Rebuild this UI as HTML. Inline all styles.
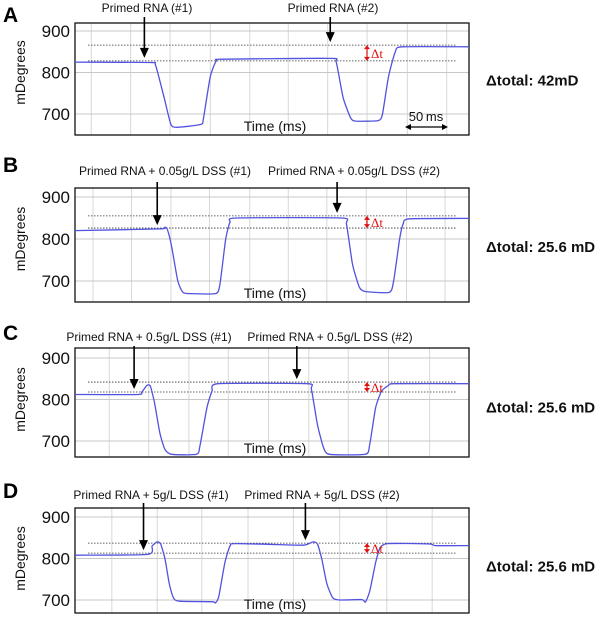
<!DOCTYPE html>
<html><head><meta charset="utf-8"><style>
html,body{margin:0;padding:0;background:#fff}
svg{display:block;font-family:"Liberation Sans",Arial,sans-serif}
</style></head><body>
<svg id="fig" width="600" height="622" viewBox="0 0 600 622">
</svg>
<script>
// ---- data (time in ms, signal in mDegrees) ----
const tickValues = [900, 800, 700];
const tickLabels = ["900", "800", "700"];
const panelLetters = ["A", "B", "C", "D"];
const totals = ["\u0394total: 42mD", "\u0394total: 25.6 mD", "\u0394total: 25.6 mD", "\u0394total: 25.6 mD"];
const labels1 = ["Primed RNA (#1)", "Primed RNA + 0.05g/L DSS (#1)", "Primed RNA + 0.5g/L DSS (#1)", "Primed RNA + 5g/L DSS (#1)"];
const labels2 = ["Primed RNA (#2)", "Primed RNA + 0.05g/L DSS (#2)", "Primed RNA + 0.5g/L DSS (#2)", "Primed RNA + 5g/L DSS (#2)"];

const aT = [0,88,94,104,112,119,147,150,158,165,172,298,305,313,322,328,354,359,366,374,382,460];
const aV = [825,824,818,740,675,668,675,690,790,828,832,834,825,740,690,683,684,700,790,850,862,862];
const bT = [0,99,105,108,113,120,126,134,164,169,176,181,188,311,317,324,332,339,367,372,379,383,390,460];
const bV = [820,824,828,822,780,700,673,670,670,690,800,840,850,850,835,740,685,675,673,700,800,835,848,849];
const cT = [0,73,78,84,88,93,99,105,113,142,146,154,160,167,271,276,283,290,297,339,344,351,358,366,373,460];
const cV = [812,812,818,834,832,790,720,680,668,668,690,780,820,838,838,825,740,685,668,668,690,780,820,834,838,838];
const dT = [0,85,90,96,100,105,110,115,122,160,164,168,175,181,188,262,271,278,283,288,294,301,309,335,339,344,351,356,365,414,421,460];
const dV = [808,810,830,840,835,800,740,705,697,696,693,710,790,830,836,832,834,840,835,800,740,705,700,701,695,720,790,825,836,835,831,831];

const dottedHi = [866, 855, 842, 837];
const dottedLo = [828, 826, 818, 813];
const inject1 = [81, 96, 69, 80];
const inject2 = [298, 306, 259, 269];
const gridA = [19,65,111,158,204,249,295,341,388,434];
const gridB = [21,66,112,157,204,249,294,340,387,432];
const gridC = [40,86,133,179,226,273,319,366,414];
const gridD = [43,96,148,202,255,309,364,417];

const panels = [
 {top:23,bottom:135,y900:31,y700:114,T:aT,V:aV,grid:gridA,lblY:12,lx:[147,333],arrTop:17,letterY:22},
 {top:188,bottom:302,y900:197,y700:281,T:bT,V:bV,grid:gridB,lblY:175,lx:[165,354],arrTop:182,letterY:172},
 {top:348,bottom:457,y900:358,y700:441,T:cT,V:cV,grid:gridC,lblY:341,lx:[149,330],arrTop:346,letterY:340},
 {top:508,bottom:613,y900:517,y700:600,T:dT,V:dV,grid:gridD,lblY:499,lx:[151,322],arrTop:503,letterY:498}
];
const L = 75, R = 469, TMAX = 460;
const svg = document.getElementById('fig');
const NS = 'http://www.w3.org/2000/svg';
function mk(tag, attrs, parent){const e=document.createElementNS(NS,tag);for(const k in attrs)e.setAttribute(k,attrs[k]);(parent||svg).appendChild(e);return e;}
function xs(t){return L + t/TMAX*(R-L);}
function smooth(P){
  let d='M'+P[0][0].toFixed(1)+','+P[0][1].toFixed(1);
  for(let i=0;i<P.length-1;i++){
    const p0=P[i-1]||P[i],p1=P[i],p2=P[i+1],p3=P[i+2]||P[i+1];
    const c1=[p1[0]+(p2[0]-p0[0])/10,p1[1]+(p2[1]-p0[1])/10];
    const c2=[p2[0]-(p3[0]-p1[0])/10,p2[1]-(p3[1]-p1[1])/10];
    d+=` C${c1[0].toFixed(1)},${c1[1].toFixed(1)} ${c2[0].toFixed(1)},${c2[1].toFixed(1)} ${p2[0].toFixed(1)},${p2[1].toFixed(1)}`;
  }
  return d;
}

panels.forEach((p,i)=>{
  const k=(p.y700-p.y900)/200, y800=(p.y700+p.y900)/2;
  const ys=v=>y800-(v-800)*k;
  const g=mk('g',{});
  
  
  p.grid.forEach(t=>{const l=mk('line',{x1:xs(t),x2:xs(t),y1:p.top,y2:p.bottom,stroke:'#d8d8d8','stroke-width':1},g);
    
    });
  tickValues.forEach((v,j)=>{const l=mk('line',{x1:L,x2:R,y1:ys(v),y2:ys(v),stroke:'#c8c8c8','stroke-width':1},g);
    
    
    const t=mk('text',{x:L-5,y:ys(v)+6,'text-anchor':'end','font-size':17,fill:'#111'},g);t.textContent=tickLabels[j];
    
    });
  const b=mk('rect',{x:L,y:p.top,width:R-L,height:p.bottom-p.top,fill:'none',stroke:'#111','stroke-width':1.3},g);
  
  
  [dottedHi[i],dottedLo[i]].forEach(v=>{const l=mk('line',{x1:L+13,x2:R-12,y1:ys(v),y2:ys(v),stroke:'#333','stroke-width':0.8,'stroke-dasharray':'1.5,1.5'},g);
    
    });
  const P=p.T.map((t,j)=>[xs(t),ys(p.V[j])]);
  const pl=mk('path',{d:smooth(P),fill:'none',stroke:'#5252e0','stroke-width':1.3,'stroke-linejoin':'round'},g);
  
  
  const yl=mk('text',{x:0,y:0,'text-anchor':'middle','font-size':14,fill:'#111',transform:`translate(25,${y800}) rotate(-90)`},g);yl.textContent='mDegrees';
  
  
  const xl=mk('text',{x:275,y:p.bottom-4,'text-anchor':'middle','font-size':14,fill:'#111'},g);xl.textContent='Time (ms)';
  
  
  const pl2=mk('text',{x:3,y:p.letterY,'font-size':21,'font-weight':'bold',fill:'#000'},g);pl2.textContent=panelLetters[i];
  
  
  [[inject1[i],labels1[i]],[inject2[i],labels2[i]]].forEach(([t,lab],j)=>{
    const x=xs(t);
    const tipV=j===0?dottedLo[i]:dottedHi[i];
    const tip=ys(tipV)-3;
    const tx=mk('text',{x:p.lx[j],y:p.lblY,'text-anchor':'middle','font-size':12,fill:'#111'},g);tx.textContent=lab;
    
    
    const ln=mk('line',{x1:x,x2:x,y1:p.arrTop,y2:tip-8,stroke:'#000','stroke-width':1.6},g);
    
    
    const hd=mk('path',{d:`M${x-4.5},${tip-10} L${x+4.5},${tip-10} L${x},${tip} z`,fill:'#000'},g);
    
    
  });
  const dx=367, yh=ys(dottedHi[i]), yl2=ys(dottedLo[i]);
  const dg=mk('g',{},g);
  
  
  mk('line',{x1:dx,x2:dx,y1:yh+3,y2:yl2-3,stroke:'#e01010','stroke-width':1.2},dg);
  mk('path',{d:`M${dx-3},${yh+4} L${dx+3},${yh+4} L${dx},${yh} z`,fill:'#e01010'},dg);
  mk('path',{d:`M${dx-3},${yl2-4} L${dx+3},${yl2-4} L${dx},${yl2} z`,fill:'#e01010'},dg);
  const dt=mk('text',{x:dx+4,y:(yh+yl2)/2+5,'font-size':13,fill:'#e01010','font-family':'Liberation Serif,serif'},dg);dt.textContent='\u0394t';
  const tt=mk('text',{x:486,y:y800+13,'font-size':15,'font-weight':'bold',fill:'#111'},g);tt.textContent=totals[i];
  
  
  if(i===0){
    const sg=mk('g',{},g);
    
    
    mk('line',{x1:407,x2:446,y1:127,y2:127,stroke:'#000','stroke-width':1.3},sg);
    mk('path',{d:'M405,127 L411,124 L411,130 z',fill:'#000'},sg);
    mk('path',{d:'M448,127 L442,124 L442,130 z',fill:'#000'},sg);
    const st=mk('text',{x:426,y:121,'text-anchor':'middle','font-size':13,fill:'#111'},sg);st.textContent='50\u2009ms';
  }
});
</script>
</body></html>
